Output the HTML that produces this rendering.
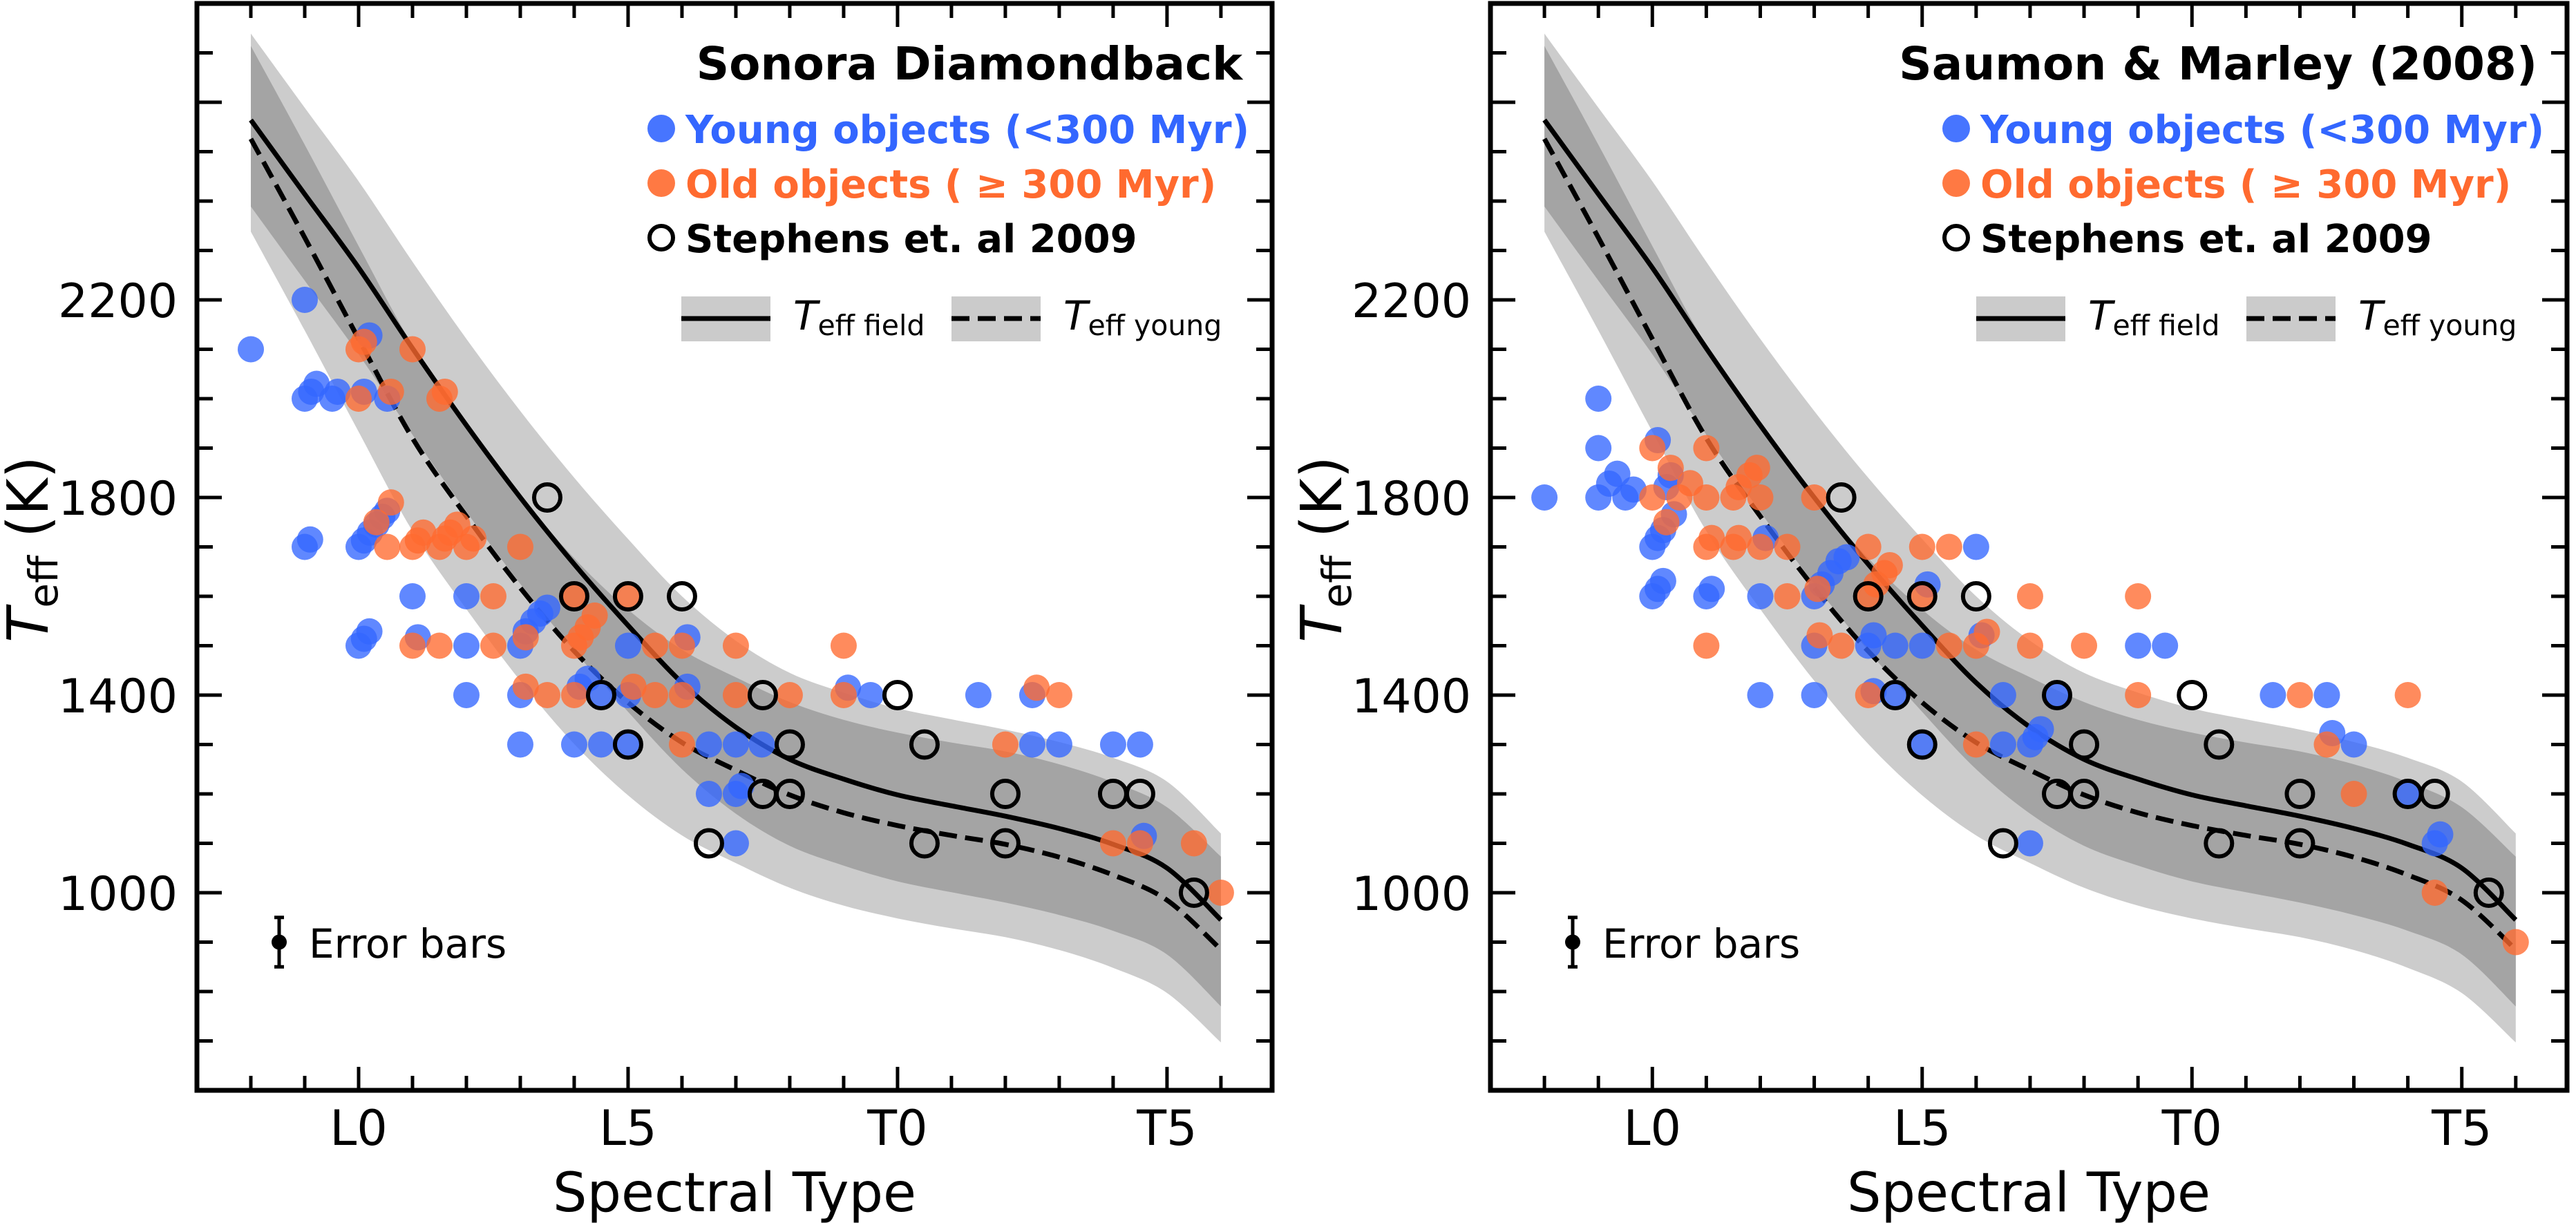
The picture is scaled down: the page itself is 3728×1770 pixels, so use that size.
<!DOCTYPE html>
<html><head><meta charset="utf-8"><style>
html,body{margin:0;padding:0;background:#fff;}
svg{display:block;font-family:"DejaVu Sans","Liberation Sans",sans-serif;}
</style></head><body>
<svg id="fig" width="3728" height="1770" viewBox="0 0 3728 1770" xmlns="http://www.w3.org/2000/svg">
<rect width="3728" height="1770" fill="#fff"/>
<g id="panelA"></g>
<g id="panelB"></g>
</svg>
<script>
const spectralGrid=[8,9,10,11,12,13,14,15,16,17,18,19,20,21,22,23,24,25,26];
const fieldTeff=[2564,2414,2265,2102,1946,1800,1665,1541,1425,1335,1270,1230,1198,1176,1155,1130,1098,1050,945];
const youngTeff=[2526,2326,2121,1920,1762,1617,1489,1385,1304,1248,1198,1162,1136,1116,1098,1072,1036,985,885];
const fieldSigma=175;
const youngSigma=188;
const xTickValues=[10,15,20,25];
const xTickLabels=["L0","L5","T0","T5"];
const yTickValues=[1000,1400,1800,2200];

const stephensX=[13.5,14,15,16,14.5,15,16.5,17.5,18,17.5,18,20,20.5,20.5,22,22,24,24.5,25.5];
const stephensT=[1800,1600,1600,1600,1400,1300,1100,1400,1300,1200,1200,1400,1300,1100,1200,1100,1200,1200,1000];

const sonoraYoungX=[8,9,9,9.12,9.22,9.51,9.61,10.1,10.2,10.53,9,9.1,10,10.1,10.21,10.33,10.44,10.53,11,12,10,10.1,10.2,11.1,12,13,13.1,13.24,13.37,13.5,12,13,13,14,14.5,15,14.1,14.25,14.5,15,15,16.1,16.1,16.5,17,16.5,17,17.1,17,17.48,19.08,19.5,21.5,22.5,22.5,23,24,24.5,24.57];
const sonoraYoungT=[2100,2200,2000,2014,2030,2000,2014,2014,2128,2000,1700,1715,1700,1713,1729,1745,1761,1773,1600,1600,1500,1514,1529,1517,1500,1500,1529,1549,1565,1577,1400,1400,1300,1300,1300,1300,1417,1433,1400,1400,1500,1517,1417,1300,1300,1200,1200,1216,1100,1300,1415,1400,1400,1400,1300,1300,1300,1300,1115];
const sonoraOldX=[10,10.1,11,10,10.6,11.5,11.6,10.6,10.33,10.53,11,11.1,11.2,11.5,11.6,11.7,11.83,12,12.13,13,12.5,14,15,11,11.5,12.5,13.1,14,14.12,14.25,14.38,13.1,13.5,14,15.1,15.5,16,15.5,16,17,17,16,18,19,19,22.58,23,22,24,24.5,25.5,26];
const sonoraOldT=[2100,2115,2100,2000,2014,2000,2014,1790,1750,1700,1700,1713,1729,1700,1717,1729,1745,1700,1717,1700,1600,1600,1600,1500,1500,1500,1517,1500,1517,1537,1561,1417,1400,1400,1417,1400,1400,1500,1500,1500,1400,1300,1400,1500,1400,1415,1400,1300,1100,1100,1100,1000];

const smYoungX=[8,9,9,9,9.2,9.35,9.5,9.65,10,10.1,10.2,10,10.1,10.2,10.1,10.26,10.34,10.4,11,11.1,12,12.1,12,13,13,13,13.14,13.3,13.45,13.6,14,14.1,14.5,15,15.1,14.1,14.5,15,16,16.1,16.5,16.5,17,17.1,17.2,17.5,17,19,19.5,21.5,22.5,22.6,23,24,24.5,24.6];
const smYoungT=[1800,2000,1900,1800,1828,1848,1800,1816,1700,1718,1734,1600,1615,1631,1916,1821,1845,1766,1600,1615,1600,1718,1400,1400,1600,1500,1624,1647,1671,1679,1500,1521,1500,1500,1624,1408,1400,1300,1700,1521,1400,1300,1300,1315,1331,1400,1100,1500,1500,1400,1400,1323,1300,1200,1100,1118];
const smOldX=[10,10,10.34,10.7,10.5,10.26,11,11,11,11.1,11,11.5,11.6,11.8,11.94,11.5,11.6,12,12,12.5,12.5,13,13.06,13.1,13.5,14,14,14.15,14.3,14.4,14,15,15,15.5,15.5,16,16.2,16,17,17,18,19,19,22,22.5,23,24,24.5,26];
const smOldT=[1900,1800,1860,1829,1800,1750,1900,1800,1700,1718,1500,1800,1821,1845,1860,1700,1718,1800,1700,1700,1600,1800,1615,1521,1500,1700,1600,1624,1647,1663,1400,1700,1600,1700,1500,1500,1528,1300,1600,1500,1500,1600,1400,1400,1300,1200,1400,1000,900];

const NS="http://www.w3.org/2000/svg";
const XMIN=7,XMAX=26.95,YMIN=600,YMAX=2800,TOP=5,BOT=1578;
const BLUE="#3366ff",ORANGE="#ff6a2f";

function mk(parent,tag,attrs,text){
  const e=document.createElementNS(NS,tag);
  for(const k in attrs)e.setAttribute(k,attrs[k]);
  if(text!==undefined)e.textContent=text;
  parent.appendChild(e);return e;
}
function smoothPath(pts){
  let d="M"+pts[0][0].toFixed(1)+","+pts[0][1].toFixed(1);
  for(let i=0;i<pts.length-1;i++){
    const p0=pts[Math.max(0,i-1)],p1=pts[i],p2=pts[i+1],p3=pts[Math.min(pts.length-1,i+2)];
    const c1=[p1[0]+(p2[0]-p0[0])/6,p1[1]+(p2[1]-p0[1])/6];
    const c2=[p2[0]-(p3[0]-p1[0])/6,p2[1]-(p3[1]-p1[1])/6];
    d+=" C"+c1[0].toFixed(1)+","+c1[1].toFixed(1)+" "+c2[0].toFixed(1)+","+c2[1].toFixed(1)+" "+p2[0].toFixed(1)+","+p2[1].toFixed(1);
  }
  return d;
}
function bandPath(sx,sy,up,lo){
  const top=spectralGrid.map((s,i)=>[sx(s),sy(up[i])]);
  const bot=spectralGrid.map((s,i)=>[sx(s),sy(lo[i])]).reverse();
  const a=smoothPath(top),b=smoothPath(bot);
  return a+" L"+b.slice(1)+" Z";
}

function drawPanel(g,L,R,title,youngX,youngT,oldX,oldT){
  const sx=v=>L+(v-XMIN)/(XMAX-XMIN)*(R-L);
  const sy=v=>BOT-(v-YMIN)/(YMAX-YMIN)*(BOT-TOP);
  const fUp=fieldTeff.map(v=>v+fieldSigma),fLo=fieldTeff.map(v=>v-fieldSigma);
  const yUp=youngTeff.map(v=>v+youngSigma),yLo=youngTeff.map(v=>v-youngSigma);
  const iUp=fUp.map((v,i)=>Math.min(v,yUp[i])),iLo=fLo.map((v,i)=>Math.max(v,yLo[i]));
  let e;
  e=mk(g,"path",{d:bandPath(sx,sy,fUp,fLo),fill:"#cccccc"});
  
  
  e=mk(g,"path",{d:bandPath(sx,sy,yUp,yLo),fill:"#cccccc"});
  
  
  e=mk(g,"path",{d:bandPath(sx,sy,iUp,iLo),fill:"#a4a4a4"});
  
  
  e=mk(g,"path",{d:smoothPath(spectralGrid.map((s,i)=>[sx(s),sy(fieldTeff[i])])),fill:"none",stroke:"#000","stroke-width":7});
  
  
  e=mk(g,"path",{d:smoothPath(spectralGrid.map((s,i)=>[sx(s),sy(youngTeff[i])])),fill:"none",stroke:"#000","stroke-width":7,"stroke-dasharray":"26,12"});
  
  
  youngX.forEach((x,i)=>{
    const c=mk(g,"circle",{cx:sx(x),cy:sy(youngT[i]),r:19,fill:BLUE,"fill-opacity":0.78});
    
    
  });
  oldX.forEach((x,i)=>{
    const c=mk(g,"circle",{cx:sx(x),cy:sy(oldT[i]),r:19,fill:ORANGE,"fill-opacity":0.78});
    
    
  });
  stephensX.forEach((x,i)=>{
    const c=mk(g,"circle",{cx:sx(x),cy:sy(stephensT[i]),r:19,fill:"none",stroke:"#000","stroke-width":6});
    
    
  });
  const ex=L+119,ey=sy(900);
  e=mk(g,"g",{});
  
  
  mk(e,"line",{x1:ex,x2:ex,y1:sy(950),y2:sy(850),stroke:"#000","stroke-width":5});
  mk(e,"line",{x1:ex-7,x2:ex+7,y1:sy(950),y2:sy(950),stroke:"#000","stroke-width":5});
  mk(e,"line",{x1:ex-7,x2:ex+7,y1:sy(850),y2:sy(850),stroke:"#000","stroke-width":5});
  mk(e,"circle",{cx:ex,cy:ey,r:11,fill:"#000"});
  const et=mk(g,"text",{x:L+162,y:1386,"font-size":58,fill:"#000"},"Error bars");
  
  
  const tk=mk(g,"g",{stroke:"#000","stroke-width":5});
  
  
  for(let s=8;s<=26;s++){
    const major=xTickValues.includes(s),len=major?34:21,x=sx(s);
    mk(tk,"line",{x1:x,x2:x,y1:BOT,y2:BOT-len});
    mk(tk,"line",{x1:x,x2:x,y1:TOP,y2:TOP+len});
  }
  for(let t=700;t<=2700;t+=100){
    const major=((t-1000)%400===0),len=major?36:23,y=sy(t);
    mk(tk,"line",{x1:L,x2:L+len,y1:y,y2:y});
    mk(tk,"line",{x1:R,x2:R-len,y1:y,y2:y});
  }
  xTickValues.forEach((v,i)=>{
    const t=mk(g,"text",{x:sx(v),y:1657,"font-size":70,"text-anchor":"middle",fill:"#000"},xTickLabels[i]);
    
    
  });
  yTickValues.forEach(v=>{
    const t=mk(g,"text",{x:L-28,y:sy(v)+25,"font-size":68,"text-anchor":"end",fill:"#000"},String(v));
    
    
  });
  e=mk(g,"rect",{x:L,y:TOP,width:R-L,height:BOT-TOP,fill:"none",stroke:"#000","stroke-width":7});
  
  
  e=mk(g,"text",{x:(L+R)/2,y:1753,"font-size":78,"text-anchor":"middle",fill:"#000"},"Spectral Type");
  
  
  e=mk(g,"text",{transform:"translate("+(L-216)+",795) rotate(-90)","font-size":82,"text-anchor":"middle",fill:"#000"});
  
  
  mk(e,"tspan",{"font-style":"italic"},"T");
  mk(e,"tspan",{"font-size":58,dy:14},"eff");
  mk(e,"tspan",{dy:-14}," (K)");
  const lg=mk(g,"g",{});
  
  
  e=mk(lg,"text",{x:R-43,y:115,"font-size":66,"font-weight":"bold","text-anchor":"end",fill:"#000"},title);
  
  
  const mx=R-884,tx=R-849;
  const rows=[["Young objects (<300 Myr)",BLUE,186,"young"],["Old objects ( \u2265 300 Myr)",ORANGE,265,"old"],["Stephens et. al 2009","#000",344,"stephens"]];
  rows.forEach(r=>{
    const c=r[3]==="stephens"?mk(lg,"circle",{cx:mx,cy:r[2],r:17,fill:"none",stroke:"#000","stroke-width":6}):mk(lg,"circle",{cx:mx,cy:r[2],r:20,fill:r[1],"fill-opacity":0.9});
    
    
    const t=mk(lg,"text",{x:tx,y:r[2]+21,"font-size":56,"font-weight":"bold",fill:r[1]},r[0]);
    
    
  });
  [[R-855,"field","none"],[R-464,"young","26,12"]].forEach(p=>{
    const px=p[0];
    const rc=mk(lg,"rect",{x:px,y:429,width:129,height:65,fill:"#cbcbcb"});
    
    
    const ln=mk(lg,"line",{x1:px,x2:px+129,y1:461,y2:461,stroke:"#000","stroke-width":7,"stroke-dasharray":p[2]});
    
    
    const t=mk(lg,"text",{x:px+162,y:477,"font-size":58,fill:"#000"});
    
    
    mk(t,"tspan",{"font-style":"italic"},"T");
    mk(t,"tspan",{"font-size":41,dy:8},"eff "+p[1]);
  });
}
drawPanel(document.getElementById("panelA"),285,1841,"Sonora Diamondback",sonoraYoungX,sonoraYoungT,sonoraOldX,sonoraOldT);
drawPanel(document.getElementById("panelB"),2157,3715,"Saumon & Marley (2008)",smYoungX,smYoungT,smOldX,smOldT);
</script>
</body></html>
